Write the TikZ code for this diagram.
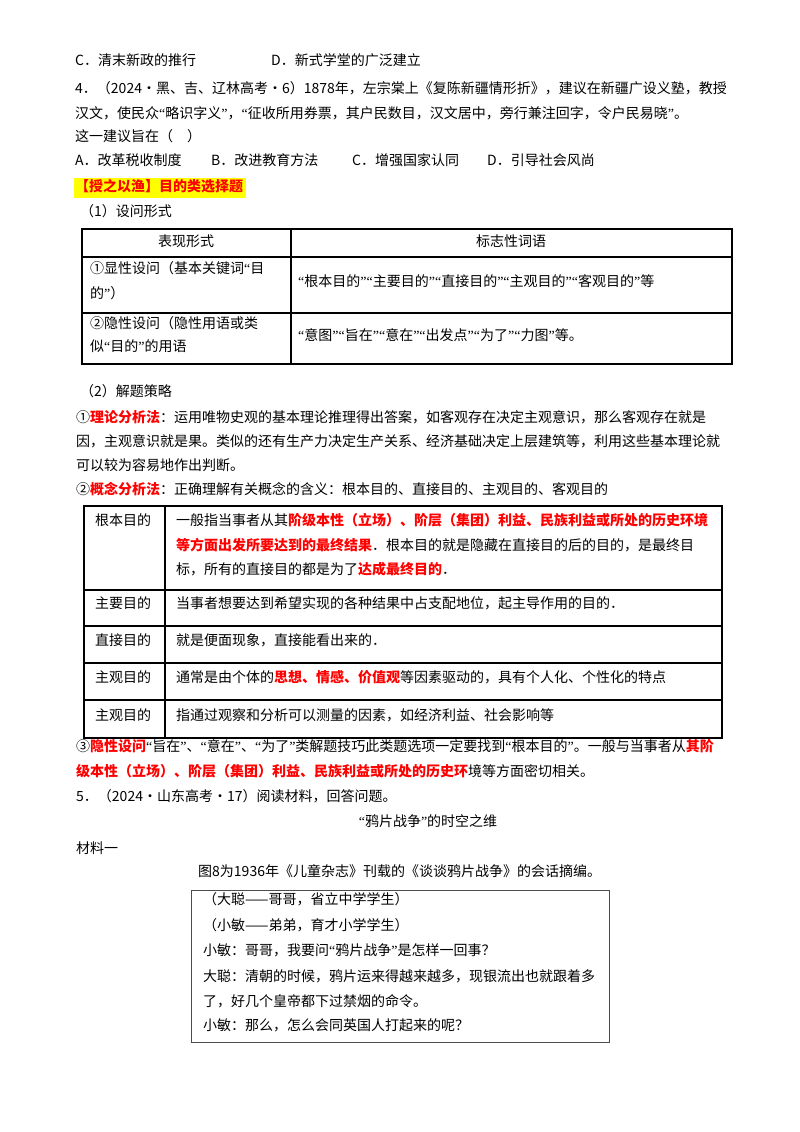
\documentclass[tikz,border=0pt]{standalone}
\usepackage{fontspec}
\setmainfont{Noto Sans CJK SC}
\newfontfamily\lat{Liberation Serif}
\definecolor{hl}{RGB}{255,255,0}
\definecolor{rd}{RGB}{255,0,0}
\newcommand{\rb}[1]{{\bfseries\color{rd}#1}}
\newcommand{\ql}{{\lat “}}
\newcommand{\qr}{{\lat ”}}
\begin{document}
\begin{tikzpicture}[x=1pt,y=-1pt,
  every node/.style={inner sep=0pt,font=\fontsize{14}{15}\selectfont,text height=10pt,text depth=3pt},
  ln/.style={anchor=west},
  tb/.style={line width=1.3pt},
  bx/.style={line width=0.9pt,draw=black!70}]
\useasboundingbox (0,0) rectangle (800,1132);
\fill[white] (0,0) rectangle (800,1132);
% questions
\node[ln] (c1) at (75,62) {C．清末新政的推行};
\node[ln] (d1) at (271,62) {D．新式学堂的广泛建立};
\node[ln] (q4a) at (75,90) {4．（2024·黑、吉、辽林高考·6）1878年，左宗棠上《复陈新疆情形折》，建议在新疆广设义塾，教授};
\node[ln] (q4b) at (75,115) {汉文，使民众\ql 略识字义\qr ，\ql 征收所用券票，其户民数目，汉文居中，旁行兼注回字，令户民易晓\qr 。};
\node[ln] (q4c) at (75,138) {这一建议旨在（\quad ）};
\node[ln] (oa) at (75,162) {A．改革税收制度};
\node[ln] (ob) at (211,162) {B．改进教育方法};
\node[ln] (oc) at (352,162) {C．增强国家认同};
\node[ln] (od) at (487,162) {D．引导社会风尚};
\fill[hl] (74,178) rectangle (246,198);
\node[ln] (hd) at (75,188) {\rb{【授之以渔】目的类选择题}};
\node[ln] (s1) at (80,213) {（1）设问形式};
% table 1
\draw[tb] (82,229) rectangle (732,364);
\draw[tb] (82,257) -- (732,257);
\draw[tb] (82,313) -- (732,313);
\draw[tb] (291,229) -- (291,364);
\node (t1h1) at (186,243) {表现形式};
\node (t1h2) at (511,243) {标志性词语};
\node[ln] (t1a) at (90,270) {①显性设问（基本关键词\ql 目};
\node[ln] (t1b) at (90,295) {的\qr ）};
\node[ln] (t1c) at (298,283) {\ql 根本目的\qr\ql 主要目的\qr\ql 直接目的\qr\ql 主观目的\qr\ql 客观目的\qr 等};
\node[ln] (t1d) at (90,325) {②隐性设问（隐性用语或类};
\node[ln] (t1e) at (90,348) {似\ql 目的\qr 的用语};
\node[ln] (t1f) at (298,337) {\ql 意图\qr\ql 旨在\qr\ql 意在\qr\ql 出发点\qr\ql 为了\qr\ql 力图\qr 等。};
% strategies
\node[ln] (s2) at (80,393) {（2）解题策略};
\node[ln] (p1a) at (76,419) {①\rb{理论分析法}：运用唯物史观的基本理论推理得出答案，如客观存在决定主观意识，那么客观存在就是};
\node[ln] (p1b) at (76,443) {因，主观意识就是果。类似的还有生产力决定生产关系、经济基础决定上层建筑等，利用这些基本理论就};
\node[ln] (p1c) at (76,467) {可以较为容易地作出判断。};
\node[ln] (p2) at (76,491) {②\rb{概念分析法}：正确理解有关概念的含义：根本目的、直接目的、主观目的、客观目的};
% table 2
\draw[tb] (84,506) rectangle (722,738);
\foreach \yy in {590,626,663,700} \draw[tb] (84,\yy) -- (722,\yy);
\draw[tb] (165,506) -- (165,738);
\node[ln] (l1) at (95,522) {根本目的};
\node[ln] (r1a) at (176,522) {一般指当事者从其\rb{阶级本性（立场）、阶层（集团）利益、民族利益或所处的历史环境}};
\node[ln] (r1b) at (176,547) {\rb{等方面出发所要达到的最终结果}．根本目的就是隐藏在直接目的后的目的，是最终目};
\node[ln] (r1c) at (176,571) {标，所有的直接目的都是为了\rb{达成最终目的}．};
\node[ln] (l2) at (95,605) {主要目的};
\node[ln] (r2) at (176,605) {当事者想要达到希望实现的各种结果中占支配地位，起主导作用的目的．};
\node[ln] (l3) at (95,642) {直接目的};
\node[ln] (r3) at (176,642) {就是便面现象，直接能看出来的．};
\node[ln] (l4) at (95,679) {主观目的};
\node[ln] (r4) at (176,679) {通常是由个体的\rb{思想、情感、价值观}等因素驱动的，具有个人化、个性化的特点};
\node[ln] (l5) at (95,717) {主观目的};
\node[ln] (r5) at (176,717) {指通过观察和分析可以测量的因素，如经济利益、社会影响等};
\node[ln] (p3a) at (76,748) {③\rb{隐性设问}\ql 旨在\qr 、\ql 意在\qr 、\ql 为了\qr 类解题技巧此类题选项一定要找到\ql 根本目的\qr 。一般与当事者从\rb{其阶}};
\node[ln] (p3b) at (76,773) {\rb{级本性（立场）、阶层（集团）利益、民族利益或所处的历史环}境等方面密切相关。};
% question 5
\node[ln] (q5) at (76,798) {5．（2024·山东高考·17）阅读材料，回答问题。};
\node (tt) at (428,823) {\ql 鸦片战争\qr 的时空之维};
\node[ln] (m1) at (76,850) {材料一};
\node[ln] (cap) at (198,873) {图8为1936年《儿童杂志》刊载的《谈谈鸦片战争》的会话摘编。};
\draw[bx] (191,890) rectangle (609,1042);
\node[ln] (b1) at (203,901) {（大聪——哥哥，省立中学学生）};
\node[ln] (b2) at (203,927) {（小敏——弟弟，育才小学学生）};
\node[ln] (b3) at (203,952) {小敏：哥哥，我要问\ql 鸦片战争\qr 是怎样一回事？};
\node[ln] (b4) at (203,978) {大聪：清朝的时候，鸦片运来得越来越多，现银流出也就跟着多};
\node[ln] (b5) at (203,1003) {了，好几个皇帝都下过禁烟的命令。};
\node[ln] (b6) at (203,1027) {小敏：那么，怎么会同英国人打起来的呢？};
\end{tikzpicture}
\end{document}
